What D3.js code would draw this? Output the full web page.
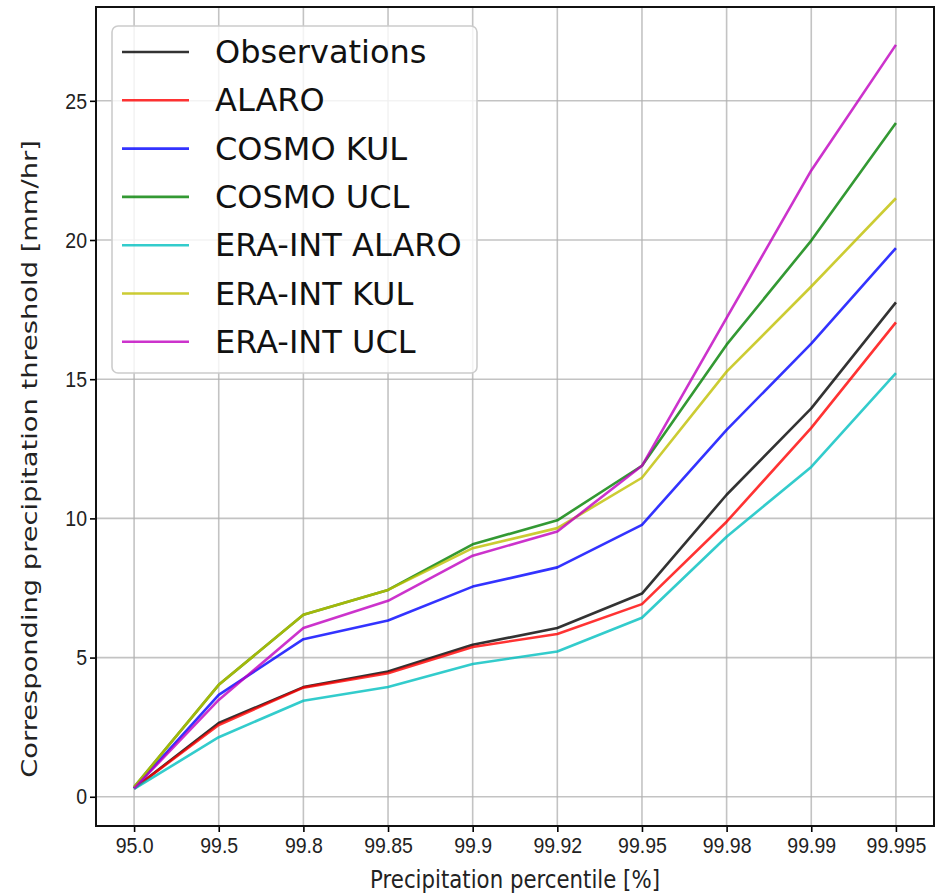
<!DOCTYPE html>
<html>
<head>
<meta charset="utf-8">
<script src="https://cdn.jsdelivr.net/npm/d3@7"></script>
<style>
  body { margin: 0; background: #fff; }
  svg { display: block; font-family: "DejaVu Sans", sans-serif; }
</style>
</head>
<body>
<svg id="chart"></svg>
<script>
const width = 945;
const height = 894;

// percentile categories on the x axis
const percentiles = ["95.0", "99.5", "99.8", "99.85", "99.9", "99.92", "99.95", "99.98", "99.99", "99.995"];

const observations = [0.30, 2.65, 3.94, 4.50, 5.46, 6.06, 7.30, 10.85, 13.95, 17.76];
const alaro        = [0.30, 2.58, 3.92, 4.44, 5.38, 5.85, 6.92, 9.88, 13.25, 17.04];
const cosmoKul     = [0.30, 3.66, 5.66, 6.33, 7.55, 8.24, 9.77, 13.18, 16.28, 19.71];
const cosmoUcl     = [0.35, 4.02, 6.54, 7.43, 9.07, 9.93, 11.89, 16.24, 19.98, 24.20];
const eraAlaro     = [0.28, 2.14, 3.45, 3.94, 4.77, 5.22, 6.43, 9.34, 11.85, 15.22];
const eraKul       = [0.35, 4.02, 6.54, 7.43, 8.93, 9.65, 11.46, 15.27, 18.33, 21.50];
const eraUcl       = [0.30, 3.48, 6.06, 7.04, 8.66, 9.53, 11.89, 17.20, 22.50, 27.01];

const seriesNames = ["Observations", "ALARO", "COSMO KUL", "COSMO UCL", "ERA-INT ALARO", "ERA-INT KUL", "ERA-INT UCL"];
const seriesValues = [observations, alaro, cosmoKul, cosmoUcl, eraAlaro, eraKul, eraUcl];
const seriesColors = ["#000000", "#ff0000", "#0000ff", "#008000", "#00bfbf", "#bfbf00", "#bf00bf"];

const yTicks = [0, 5, 10, 15, 20, 25];

const margin = { top: 7, right: 11, bottom: 68, left: 96 };
const plotW = width - margin.left - margin.right;
const plotH = height - margin.top - margin.bottom;

// the picture is a bit taller than wide, so text gets stretched vertically
const stretch = 1.15;

const svg = d3.select("#chart").attr("width", width).attr("height", height);
const g = svg.append("g").attr("transform", `translate(${margin.left},${margin.top})`);

const x = d3.scalePoint().domain(percentiles).range([0, plotW]).padding(0.45);
const y = d3.scaleLinear().domain([-1.05, 28.37]).range([plotH, 0]);

// grid
g.append("g").selectAll("line")
  .data(percentiles)
  .join("line")
  .attr("x1", d => x(d)).attr("x2", d => x(d))
  .attr("y1", 0).attr("y2", plotH)
  .attr("stroke", "#b0b0b0").attr("stroke-width", 1.6).attr("opacity", 0.75);

g.append("g").selectAll("line")
  .data(yTicks)
  .join("line")
  .attr("x1", 0).attr("x2", plotW)
  .attr("y1", d => y(d)).attr("y2", d => y(d))
  .attr("stroke", "#b0b0b0").attr("stroke-width", 1.6).attr("opacity", 0.75);

// lines
const line = d3.line().x((d, i) => x(percentiles[i])).y(d => y(d));

g.append("g").selectAll("path")
  .data(seriesValues)
  .join("path")
  .attr("d", line)
  .attr("fill", "none")
  .attr("stroke", (d, i) => seriesColors[i])
  .attr("stroke-opacity", 0.8)
  .attr("stroke-width", 2.6)
  .attr("stroke-linejoin", "round");

// axes
const xAxis = g.append("g")
  .attr("transform", `translate(0,${plotH})`)
  .call(d3.axisBottom(x).tickSize(6).tickSizeOuter(0));
const yAxis = g.append("g")
  .call(d3.axisLeft(y).tickValues(yTicks).tickSize(6).tickSizeOuter(0));

[xAxis, yAxis].forEach(a => {
  a.select(".domain").remove();
  a.selectAll(".tick line").attr("stroke", "#000").attr("stroke-width", 1.6);
  a.selectAll(".tick text").attr("fill", "#222").style("font-size", "19.5px");
});
xAxis.selectAll(".tick text").attr("y", 11)
  .attr("transform", `translate(0,11) scale(1,${stretch}) translate(0,-11)`);
yAxis.selectAll(".tick text").attr("x", -9)
  .attr("transform", `scale(1,${stretch})`);

// frame
g.append("rect")
  .attr("width", plotW).attr("height", plotH)
  .attr("fill", "none").attr("stroke", "#111").attr("stroke-width", 2);

// axis labels
svg.append("text")
  .attr("transform", `translate(${margin.left + plotW / 2},888) scale(1,${stretch})`)
  .attr("text-anchor", "middle")
  .attr("fill", "#222")
  .style("font-size", "21.3px")
  .text("Precipitation percentile [%]");

svg.append("text")
  .attr("transform", `translate(37,459) rotate(-90) scale(1.27,1)`)
  .attr("text-anchor", "middle")
  .attr("fill", "#222")
  .style("font-size", "21.5px")
  .text("Corresponding precipitation threshold [mm/hr]");

// legend
const legend = svg.append("g").attr("transform", "translate(112,26)");
legend.append("rect")
  .attr("width", 365).attr("height", 347)
  .attr("rx", 6)
  .attr("fill", "#fff").attr("fill-opacity", 0.8)
  .attr("stroke", "#cccccc").attr("stroke-width", 1.6);

const rows = legend.selectAll("g.row")
  .data(seriesNames)
  .join("g")
  .attr("class", "row")
  .attr("transform", (d, i) => `translate(0,${26 + i * 48.3})`);

rows.append("line")
  .attr("x1", 10).attr("x2", 77)
  .attr("stroke", (d, i) => seriesColors[i])
  .attr("stroke-opacity", 0.8)
  .attr("stroke-width", 2.6);

rows.append("text")
  .attr("x", 103).attr("y", 11)
  .attr("fill", "#111")
  .style("font-size", "32px")
  .text(d => d);
</script>
</body>
</html>
